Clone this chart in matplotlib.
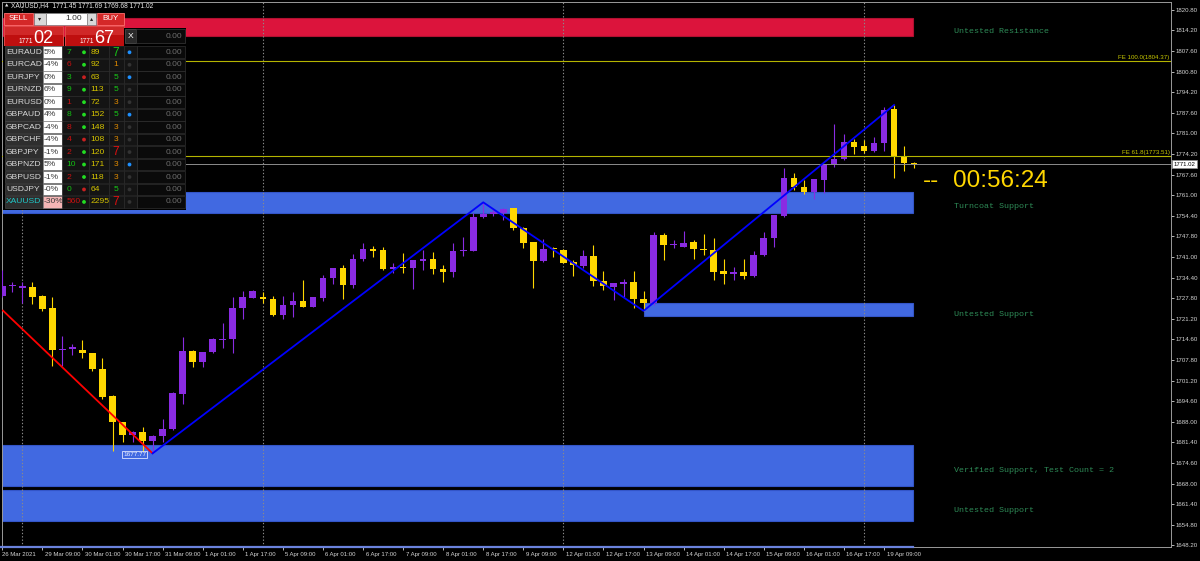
import matplotlib
matplotlib.use("Agg")
import matplotlib.pyplot as plt
from matplotlib.patches import Rectangle, Circle
from matplotlib.transforms import ScaledTranslation
import numpy as np

plt.rcParams["font.family"] = ["Liberation Sans", "DejaVu Sans"]

# H4 candles, XAUUSD 26 Mar 2021 - 19 Apr 2021
opens = [1728.51, 1731.84, 1731.19, 1731.52, 1728.51, 1724.64, 1711.10, 1711.42, 1711.10, 1710.02,
         1705.08, 1696.27, 1687.99, 1683.80, 1684.66, 1681.87, 1683.27, 1685.52, 1697.02, 1710.78,
         1707.12, 1710.35, 1714.43, 1714.64, 1724.53, 1727.97, 1728.29, 1727.65, 1722.27, 1725.50,
         1727.00, 1725.07, 1727.75, 1734.20, 1737.53, 1731.95, 1740.44, 1743.77, 1743.23, 1737.10,
         1737.86, 1737.64, 1739.90, 1740.33, 1737.32, 1736.24, 1742.91, 1743.12, 1753.87, 1754.84,
         1755.37, 1756.77, 1750.54, 1745.81, 1739.68, 1743.87, 1743.34, 1739.47, 1738.29, 1741.40,
         1733.45, 1731.52, 1732.27, 1733.13, 1727.65, 1726.14, 1748.06, 1744.94, 1744.30, 1745.80,
         1743.76, 1743.22, 1736.56, 1735.48, 1736.13, 1734.95, 1741.72, 1747.09, 1754.40, 1766.43,
         1763.75, 1762.13, 1766.00, 1771.05, 1772.56, 1778.04, 1776.86, 1775.24, 1777.93, 1788.68,
         1773.63, 1771.45]
highs = [1736.89, 1732.91, 1732.91, 1732.91, 1728.83, 1728.29, 1715.61, 1713.03, 1714.32, 1710.24,
         1708.41, 1696.59, 1687.99, 1685.09, 1686.38, 1683.70, 1688.75, 1697.67, 1715.18, 1711.10,
         1710.56, 1714.97, 1719.91, 1728.08, 1730.12, 1730.44, 1729.90, 1728.51, 1728.51, 1729.69,
         1733.56, 1728.08, 1735.38, 1737.64, 1738.50, 1741.94, 1745.49, 1744.63, 1744.41, 1739.04,
         1742.48, 1740.11, 1743.34, 1742.69, 1738.39, 1745.49, 1747.64, 1755.16, 1758.70, 1756.45,
         1756.98, 1756.77, 1750.86, 1746.02, 1746.78, 1744.41, 1743.55, 1740.11, 1743.34, 1744.95,
         1736.57, 1732.81, 1733.88, 1736.46, 1730.12, 1749.02, 1748.70, 1746.55, 1749.35, 1746.66,
         1748.59, 1747.09, 1740.32, 1737.74, 1740.32, 1742.90, 1749.24, 1754.50, 1769.66, 1768.04,
         1765.90, 1766.11, 1771.16, 1783.95, 1780.73, 1779.01, 1778.79, 1779.87, 1789.32, 1790.07,
         1776.86, 1771.69]
lows = [1728.29, 1729.90, 1726.14, 1725.93, 1723.67, 1705.94, 1705.94, 1709.49, 1708.41, 1704.44,
        1695.19, 1678.65, 1681.55, 1681.33, 1678.65, 1677.77, 1681.44, 1685.31, 1693.58, 1705.73,
        1705.62, 1710.02, 1711.64, 1710.24, 1721.20, 1727.75, 1726.14, 1722.06, 1721.09, 1721.63,
        1725.07, 1724.85, 1727.00, 1732.38, 1727.54, 1730.98, 1739.68, 1741.19, 1736.89, 1735.81,
        1736.03, 1730.66, 1736.89, 1735.49, 1732.91, 1734.53, 1741.40, 1743.01, 1753.76, 1754.41,
        1753.01, 1749.78, 1743.87, 1730.98, 1739.36, 1741.19, 1739.04, 1734.96, 1737.64, 1731.84,
        1730.44, 1727.22, 1728.29, 1724.75, 1723.70, 1725.60, 1740.11, 1743.87, 1744.19, 1740.54,
        1741.72, 1733.66, 1732.37, 1733.66, 1734.09, 1734.52, 1741.50, 1744.40, 1754.08, 1762.67,
        1761.38, 1759.66, 1761.60, 1770.19, 1772.34, 1774.28, 1774.49, 1775.03, 1775.35, 1766.65,
        1768.80, 1769.68]
closes = [1731.73, 1732.05, 1731.73, 1728.29, 1724.32, 1711.10, 1711.53, 1711.96, 1710.02, 1704.87,
          1696.05, 1687.78, 1683.70, 1684.66, 1681.76, 1683.48, 1685.63, 1697.24, 1710.78, 1707.12,
          1710.56, 1714.64, 1714.75, 1724.64, 1728.08, 1730.12, 1727.54, 1722.27, 1725.61, 1727.00,
          1725.07, 1728.08, 1734.31, 1737.64, 1731.95, 1740.54, 1743.77, 1743.12, 1737.10, 1737.75,
          1737.64, 1740.01, 1740.33, 1737.10, 1736.24, 1743.01, 1743.34, 1753.87, 1754.94, 1755.59,
          1756.66, 1750.32, 1745.70, 1739.68, 1743.77, 1743.55, 1739.25, 1738.39, 1741.40, 1733.45,
          1731.62, 1732.59, 1733.13, 1727.54, 1726.14, 1748.06, 1744.83, 1745.37, 1745.59, 1743.65,
          1743.33, 1736.34, 1735.48, 1736.24, 1734.95, 1741.82, 1747.20, 1754.50, 1766.43, 1763.53,
          1761.92, 1766.11, 1771.16, 1772.67, 1778.04, 1776.43, 1775.14, 1777.93, 1788.46, 1773.63,
          1771.48, 1771.02]

tick_labels = ["26 Mar 2021", "29 Mar 09:00", "30 Mar 01:00", "30 Mar 17:00", "31 Mar 09:00",
               "1 Apr 01:00", "1 Apr 17:00", "5 Apr 09:00", "6 Apr 01:00", "6 Apr 17:00",
               "7 Apr 09:00", "8 Apr 01:00", "8 Apr 17:00", "9 Apr 09:00", "12 Apr 01:00",
               "12 Apr 17:00", "13 Apr 09:00", "14 Apr 01:00", "14 Apr 17:00", "15 Apr 09:00",
               "16 Apr 01:00", "16 Apr 17:00", "19 Apr 09:00"]
week_starts = [2, 26, 56, 86]
price_ticks = [1820.80, 1814.20, 1807.60, 1800.80, 1794.20, 1787.60, 1781.00, 1774.20, 1767.60,
               1761.00, 1754.40, 1747.80, 1741.00, 1734.40, 1727.80, 1721.20, 1714.60, 1707.80,
               1701.20, 1694.60, 1688.00, 1681.40, 1674.60, 1668.00, 1661.40, 1654.80, 1648.20]

# support / resistance zones
zone_names = ["Untested Resistance", "Turncoat Support", "Untested Support",
              "Verified Support, Test Count = 2", "Untested Support"]
zone_low = [1812.42, 1755.36, 1722.06, 1667.35, 1655.97]
zone_high = [1818.03, 1762.13, 1726.15, 1680.47, 1665.87]
zone_start = [-1, -1, 64, -1, -1]
zone_end = 90.9

# zigzag
red_x = [0, 15]
red_y = [1724.0, 1677.77]
zig_x = [15, 48, 64, 89]
zig_y = [1677.77, 1758.70, 1723.70, 1790.07]

fe_levels = [1804.37, 1773.51]
fe_names = ["FE 100.0", "FE 61.8"]
timer_text = "00:56:24"

# trade panel
pairs = ["EURAUD", "EURCAD", "EURJPY", "EURNZD", "EURUSD", "GBPAUD", "GBPCAD",
         "GBPCHF", "GBPJPY", "GBPNZD", "GBPUSD", "USDJPY", "XAUUSD"]
pair_pct = ["5%", "-4%", "0%", "6%", "0%", "4%", "-4%", "-4%", "-1%", "5%", "-1%", "-0%", "-30%"]
pair_count = [7, 6, 3, 9, 1, 8, 8, 4, 2, 10, 2, 0, 560]
count_up = [1, 0, 1, 1, 0, 1, 0, 0, 0, 1, 0, 1, 0]
dot_up = [1, 1, 0, 1, 1, 1, 1, 0, 1, 1, 1, 0, 1]
pair_num = [89, 92, 63, 113, 72, 152, 148, 108, 120, 171, 118, 64, 2295]
pair_digit = [7, 1, 5, 5, 3, 5, 3, 3, 7, 3, 3, 5, 7]
digit_kind = ["g", "o", "g", "g", "o", "g", "o", "o", "r", "o", "o", "g", "r"]
dot_blue = [1, 0, 1, 0, 0, 1, 0, 0, 0, 1, 0, 0, 0]
bid, ask = "1771.02", "1771.67"
lot = "1.00"

BULL = "#8a2be2"
BEAR = "#ffd700"
ZONE_BLUE = "#4169e1"
ZONE_RED = "#dc143c"
TXT = "#d4d4d4"
PF = 6.1  # panel font size

opens = np.array(opens)
highs = np.array(highs)
lows = np.array(lows)
closes = np.array(closes)
x = np.arange(len(opens))

fig = plt.figure(figsize=(12, 5.61), dpi=100, facecolor="black")
ax = fig.add_axes([2 / 1200, 14 / 561, 1169 / 1200, 545 / 561], facecolor="black")
ax.set_xlim(-0.03, 116.64)
ax.set_ylim(1647.59, 1823.28)

# zones
for name, lo, hi, start in zip(zone_names, zone_low, zone_high, zone_start):
    fc = ZONE_RED if "Resistance" in name else ZONE_BLUE
    ec = "#b01030" if "Resistance" in name else "#3355c8"
    ax.add_patch(Rectangle((start, lo), zone_end - start, hi - lo, fc=fc, ec=ec, lw=0.8, zorder=1))
    ax.text(95.0, (lo + hi) / 2 - 1.5, name, color="#2e8b57", fontsize=6,
            family=["Liberation Mono", "DejaVu Sans Mono"], va="center", ha="left", zorder=6)
ax.plot([-1, zone_end], [1647.75, 1647.75], color="#6a82dc", lw=1.6, clip_on=False, zorder=7)

# week separators
for w in week_starts:
    ax.axvline(w, color="#8a8a8a", lw=0.8, dashes=(1.2, 1.8), zorder=1.5)

# candles
cols = np.where(closes >= opens, BULL, BEAR)
ax.vlines(x, lows, highs, colors=cols, lw=0.8, zorder=3)
body = np.maximum(np.abs(closes - opens), 0.35)
ax.bar(x, body, bottom=np.minimum(opens, closes), width=0.66, color=cols, linewidth=0, zorder=3.5)

# fibo expansion levels and current price
for lvl, nm in zip(fe_levels, fe_names):
    ax.axhline(lvl, color="#b4b400", lw=0.8, zorder=4)
    ax.text(116.5, lvl + 0.35, f"{nm}({lvl:.2f})", color="#c8c800", fontsize=4.4,
            ha="right", va="bottom", zorder=6)
ax.axhline(closes[-1], color="#8c8c8c", lw=0.7, zorder=4)
ax.text(1.002, closes[-1], f"{closes[-1]:.2f}", transform=ax.get_yaxis_transform(),
        fontsize=4.3, color="black", va="center", ha="left", clip_on=False,
        bbox=dict(boxstyle="square,pad=0.25", fc="white", ec="#909090", lw=0.5), zorder=8)

# zigzag
ax.plot(red_x, red_y, color="#ff0000", lw=1.3, zorder=5, solid_capstyle="butt")
ax.plot(zig_x, zig_y, color="#0000ff", lw=1.3, zorder=5)
ax.text(zig_x[0] - 0.65, zig_y[0] - 0.3, f"{zig_y[0]:.2f}", fontsize=4.6, color="#e8eeff",
        ha="right", va="center", zorder=6,
        bbox=dict(boxstyle="square,pad=0.2", fc="none", ec="#dde4ff", lw=0.6))

# candle timer
ax.text(91.86, 1765.58, "--", color="#ffd700", fontsize=17.5, va="center", ha="left", zorder=6)
ax.text(94.9, 1765.58, timer_text, color="#ffd700", fontsize=17.5, va="center", ha="left", zorder=6)

# axes styling
for sp in ax.spines.values():
    sp.set_color("#9a9a9a")
    sp.set_linewidth(0.7)
ax.yaxis.tick_right()
ax.set_yticks(price_ticks, [f"{p:.2f}" for p in price_ticks])
ax.tick_params(axis="y", colors=TXT, labelsize=4.4, length=2.2, width=0.6, pad=1.2)
ax.set_xticks(np.arange(0, len(opens), 4), tick_labels)
ax.tick_params(axis="x", colors=TXT, labelsize=4.3, length=2.2, width=0.6, pad=1.2)
shift = ScaledTranslation(2.5 / 100, 0, fig.dpi_scale_trans)
for k, lab in enumerate(ax.get_xticklabels()):
    lab.set_ha("left")
    if k > 0:
        lab.set_transform(lab.get_transform() + shift)

# overlay in pixel coordinates for the header and the trade panel
ov = fig.add_axes([0, 0, 1, 1], zorder=10)
ov.set_xlim(0, 1200)
ov.set_ylim(561, 0)
ov.patch.set_alpha(0)
ov.axis("off")

ov.text(4.5, 5.6, "▲", fontsize=3.2, color="#e0e0e0", va="center", family=["DejaVu Sans"])
ov.text(11, 5.6, f"XAUUSD,H4  {opens[-1]:.2f} {highs[-1]:.2f} {lows[-1]:.2f} {closes[-1]:.2f}",
        fontsize=4.8, color="#e8e8e8", va="center")

# buttons
for bx, bw, lbl in [(4, 28.7, "SELL"), (97.3, 26.7, "BUY")]:
    ov.add_patch(Rectangle((bx, 12.5), bw, 12.5, fc="#d42828", ec="#ff7070", lw=0.6))
    ov.text(bx + bw / 2, 18.9, lbl, color="white", fontsize=5.8, ha="center", va="center")
for bx, bw, sym in [(34, 12, "▾"), (86.7, 9.3, "▴")]:
    ov.add_patch(Rectangle((bx, 13), bw, 11.7, fc="#d8d8d8", ec="#808080", lw=0.5))
    ov.text(bx + bw / 2, 18.9, sym, color="#202020", fontsize=4.5, ha="center", va="center",
            family=["DejaVu Sans"])
ov.add_patch(Rectangle((46, 13), 40.7, 11.7, fc="white", ec="#808080", lw=0.5))
ov.text(82, 18.9, lot, color="#303030", fontsize=PF, ha="right", va="center")

for bx, bw, price in [(4, 59.3, bid), (65.3, 58.7, ask)]:
    ov.add_patch(Rectangle((bx, 26), bw, 21.3, fc="#bf0f0f", ec="#e04848", lw=0.7))
    ov.add_patch(Rectangle((bx + 0.5, 26.5), bw - 1, 8, fc="#d02828", lw=0))
    ov.text(bx + 14.3, 41.7, price[:4], color="white", fontsize=4.7, ha="left", va="center")
    ov.text(bx + 29.3, 38.0, price[5:], color="white", fontsize=13, ha="left", va="center")

ov.add_patch(Rectangle((124, 27.5), 62, 19.5, fc="black", lw=0))
ov.add_patch(Rectangle((125.3, 29.3), 10.7, 13.3, fc="#2a2a2a", ec="#555555", lw=0.5))
ov.text(130.7, 36, "X", color="white", fontsize=PF, ha="center", va="center")
ov.add_patch(Rectangle((136, 29.3), 49.3, 13.3, fc="#0a0a0a", ec="#3a3a3a", lw=0.5))
ov.text(182.5, 36, "0.00", color="#6e6e6e", fontsize=PF, ha="right", va="center")

# pair rows
ov.add_patch(Rectangle((3, 46.3), 183, 164, fc="black", lw=0))
digit_col = {"g": "#18c818", "o": "#e08a00", "r": "#e01010"}
for i, name in enumerate(pairs):
    yc = 52.3 + 12.47 * i
    top, h = yc - 5.9, 11.8
    gold = name == "XAUUSD"
    ov.add_patch(Rectangle((5, top), 38, h, fc="#2e2e2e", ec="#505050", lw=0.4))
    ov.text(6.0, yc, name, color="#20c8c8" if gold else "#d8d8d8", fontsize=PF, va="center")
    ov.add_patch(Rectangle((43, top), 19, h, fc="#f5b5b5" if gold else "white", ec="#808080", lw=0.4))
    ov.text(44.0, yc, pair_pct[i], color="#3a3a3a", fontsize=PF, va="center")
    ov.add_patch(Rectangle((62, top), 27, h, fc="#141414", ec="#333333", lw=0.4))
    ov.text(66.3, yc, str(pair_count[i]), color="#12c012" if count_up[i] else "#c81010",
            fontsize=PF, va="center")
    ov.add_patch(Circle((84, yc), 1.9, fc="#22dd22" if dot_up[i] else "#c82020", lw=0))
    ov.add_patch(Rectangle((89, top), 20, h, fc="#141414", ec="#333333", lw=0.4))
    ov.text(90.5, yc, str(pair_num[i]), color="#d6c400", fontsize=PF, va="center")
    ov.add_patch(Rectangle((109, top), 14.5, h, fc="#141414", ec="#333333", lw=0.4))
    big = pair_digit[i] == 7
    ov.text(116, yc + (0.3 if big else 0), str(pair_digit[i]), color=digit_col[digit_kind[i]],
            fontsize=8.5 if big else PF, va="center", ha="center")
    ov.add_patch(Rectangle((123.5, top), 13, h, fc="#141414", ec="#333333", lw=0.4))
    ov.add_patch(Circle((129.5, yc), 1.9, fc="#1e90ff" if dot_blue[i] else "#333333", lw=0))
    ov.add_patch(Rectangle((137, top), 48, h, fc="#0a0a0a", ec="#3a3a3a", lw=0.4))
    ov.text(182.5, yc, "0.00", color="#6e6e6e", fontsize=PF, ha="right", va="center")

fig.savefig("out.png", dpi=100, facecolor="black")
